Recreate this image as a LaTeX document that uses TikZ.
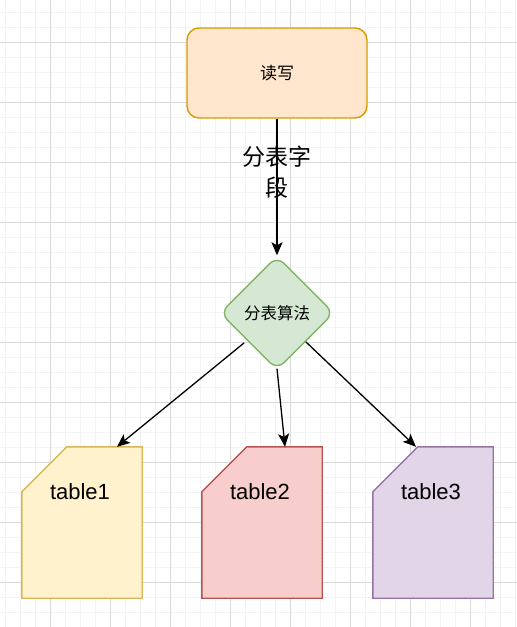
\documentclass[tikz,border=0pt]{standalone}
\usepackage{fontspec}
\setmainfont{Liberation Sans}
\newfontfamily\cjk{Noto Sans CJK SC}
\usepackage{tikz}
\usetikzlibrary{shapes.geometric,arrows.meta}

\definecolor{rwfill}{HTML}{FFE6CC}
\definecolor{rwline}{HTML}{D79B00}
\definecolor{algfill}{HTML}{D5E8D4}
\definecolor{algline}{HTML}{82B366}
\definecolor{yfill}{HTML}{FFF2CC}
\definecolor{yline}{HTML}{D6B656}
\definecolor{rfill}{HTML}{F8CECC}
\definecolor{rline}{HTML}{B85450}
\definecolor{pfill}{HTML}{E1D5E7}
\definecolor{pline}{HTML}{9673A6}
\definecolor{gridminor}{HTML}{F3F3F3}
\definecolor{gridmajor}{HTML}{DADADA}

\begin{document}
\begin{tikzpicture}[x=1pt,y=-1pt,
    link/.style={draw=black,line width=1.3pt,-{Stealth[length=13pt,width=11pt,inset=3pt]}},
    cardbox/.style={minimum width=120pt,minimum height=151pt,inner sep=0pt},
    cardtext/.style={font=\fontsize{22}{26}\selectfont}]
    \useasboundingbox (0,0) rectangle (517,627);
    \fill[white] (0,0) rectangle (517,627);
    % background grid
    \foreach \gx in {5,20,...,515} \draw[gridminor,line width=1pt] (\gx,0) -- (\gx,627);
    \foreach \gy in {12,27,...,627} \draw[gridminor,line width=1pt] (0,\gy) -- (517,\gy);
    \foreach \gx in {50,110,...,515} \draw[gridmajor,line width=1pt] (\gx,0) -- (\gx,627);
    \foreach \gy in {42,102,...,627} \draw[gridmajor,line width=1pt] (0,\gy) -- (517,\gy);

    \node[draw=rwline,fill=rwfill,line width=1.4pt,rounded corners=12pt,minimum width=180pt,minimum height=90pt,font=\cjk\fontsize{17}{20}\selectfont] (rw) at (277,73) {读写};
    \node[diamond,aspect=1,draw=algline,fill=algfill,line width=1.4pt,rounded corners=10pt,minimum width=114pt,minimum height=114pt,inner sep=0pt,font=\cjk\fontsize{16.5}{19}\selectfont] (alg) at (277,313) {分表算法};

    \node[cardbox] (t1) at (82,522.5) {};
    \node[cardbox] (t2) at (262,522.5) {};
    \node[cardbox] (t3) at (433,522.5) {};
    \filldraw[draw=yline,fill=yfill,line width=1.4pt] ([yshift=-45pt]t1.north west) -- ([xshift=45pt]t1.north west) -- (t1.north east) -- (t1.south east) -- (t1.south west) -- cycle;
    \filldraw[draw=rline,fill=rfill,line width=1.4pt] ([yshift=-45pt]t2.north west) -- ([xshift=45pt]t2.north west) -- (t2.north east) -- (t2.south east) -- (t2.south west) -- cycle;
    \filldraw[draw=pline,fill=pfill,line width=1.4pt] ([yshift=-45pt]t3.north west) -- ([xshift=45pt]t3.north west) -- (t3.north east) -- (t3.south east) -- (t3.south west) -- cycle;
    \node[cardtext] (l1) at ([xshift=-2pt,yshift=-45pt]t1.north) {table1};
    \node[cardtext] (l2) at ([xshift=-2pt,yshift=-45pt]t2.north) {table2};
    \node[cardtext] (l3) at ([xshift=-2pt,yshift=-45pt]t3.north) {table3};

    \draw[link] (rw.south) -- (alg.north) node[pos=0.39,align=center,font=\cjk\fontsize{23}{31}\selectfont] (fld) {分表字\\段};
    \draw[link] ([xshift=-4pt,yshift=-1pt]alg.south west) -- ([xshift=35pt]t1.north);
    \draw[link] ([yshift=2pt]alg.south) -- ([xshift=23pt]t2.north);
    \draw[link] (alg.south east) -- ([xshift=-17pt]t3.north);
\end{tikzpicture}
\end{document}
